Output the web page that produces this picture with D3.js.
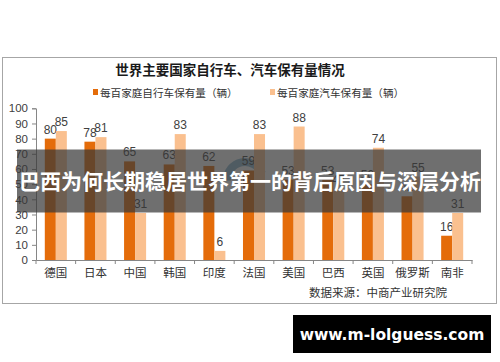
<!DOCTYPE html>
<html><head><meta charset="utf-8">
<script src="https://cdn.jsdelivr.net/npm/d3@7"></script>
<style>body{margin:0;background:#fff;}svg{display:block;}</style>
</head><body>
<svg id="c" width="500" height="362"></svg>
<script>
const categories = ["德国","日本","中国","韩国","印度","法国","美国","巴西","英国","俄罗斯","南非"];
const bikeValues = [80,78,65,63,62,59,53,53,50,42,16];
const carValues  = [85,81,31,83,6,83,88,47,74,55,31];
const seriesNames = ["每百家庭自行车保有量（辆）","每百家庭汽车保有量（辆）"];
const seriesColors = ["#E46C0A","#FAC08F"];
const yTicks = [0,10,20,30,40,50,60,70,80,90,100];
const title = "世界主要国家自行车、汽车保有量情况";
const source = "数据来源：中商产业研究院";
const overlayText = "巴西为何长期稳居世界第一的背后原因与深层分析";
const siteText = "www.m-lolguess.com";

const svg = d3.select("#c");
const font = "'Noto Sans CJK SC','Noto Sans',sans-serif";

// chart frame
svg.append("rect").attr("x",2.5).attr("y",57.5).attr("width",494).attr("height",246)
  .attr("fill","#fff").attr("stroke","#a6a6a6").attr("stroke-width",1);

svg.append("text").attr("x",230).attr("y",75).attr("text-anchor","middle")
  .attr("font-family",font).attr("font-weight","bold").attr("font-size",13.5).attr("fill","#1a1a1a").text(title);

// legend
const legendX = [93,270];
seriesNames.forEach((n,i)=>{
  svg.append("rect").attr("x",legendX[i]).attr("y",89).attr("width",5).attr("height",6).attr("fill",seriesColors[i]);
  svg.append("text").attr("x",legendX[i]+7).attr("y",97).attr("font-family",font).attr("font-size",10.6)
    .attr("fill","#333").text(n);
});

const x = d3.scaleBand().domain(categories).range([36,472]);
const y = d3.scaleLinear().domain([0,100]).range([260,108.3]);
const bw = x.bandwidth();
const x1 = d3.scaleBand().domain([0,1]).range([bw*0.222, bw*0.778]);

// y axis
const ya = svg.append("g").attr("transform","translate(36,0)")
  .call(d3.axisLeft(y).tickValues(yTicks).tickSize(4).tickPadding(4));
ya.select(".domain").attr("stroke","#868686");
ya.selectAll(".tick line").attr("stroke","#868686");
ya.selectAll("text").attr("font-family","'Liberation Sans',Arial,sans-serif").attr("font-size",11.5).attr("fill","#404040");

// x axis
const xa = svg.append("g").attr("transform","translate(0,260)")
  .call(d3.axisBottom(x).tickSize(0).tickPadding(9));
xa.select(".domain").attr("stroke","#868686");
xa.selectAll("text").attr("font-family",font).attr("font-size",11.5).attr("fill","#333");
// boundary ticks
svg.append("g").selectAll("line").data(categories.concat(["__end"])).join("line")
  .attr("x1",(d,i)=> i<categories.length ? x(d) : x(categories[categories.length-1])+bw)
  .attr("x2",(d,i)=> i<categories.length ? x(d) : x(categories[categories.length-1])+bw)
  .attr("y1",260).attr("y2",264).attr("stroke","#868686");

// faint watermark logo
svg.append("path").attr("d",d3.arc()({innerRadius:14,outerRadius:22,startAngle:-1.6,endAngle:1.2}))
  .attr("transform","translate(245,180)").attr("fill","#2f7ea8").attr("opacity",0.55);

const data = [bikeValues, carValues];
data.forEach((vals,si)=>{
  const g = svg.append("g");
  g.selectAll("rect").data(categories).join("rect")
    .attr("x",(d)=>x(d)+x1(si)).attr("width",x1.bandwidth())
    .attr("y",(d,i)=>y(vals[i])).attr("height",(d,i)=>y(0)-y(vals[i]))
    .attr("fill",seriesColors[si]);
  g.selectAll("text").data(categories).join("text")
    .attr("x",(d)=>x(d)+x1(si)+x1.bandwidth()/2).attr("y",(d,i)=>y(vals[i])-5)
    .attr("text-anchor","middle").attr("font-family","'Liberation Sans',Arial,sans-serif")
    .attr("font-size",12).attr("fill","#404040").text((d,i)=>vals[i]);
});

svg.append("text").attr("x",447).attr("y",297).attr("text-anchor","end")
  .attr("font-family",font).attr("font-size",11.5).attr("fill","#333").text(source);

// overlay band
svg.append("rect").attr("x",17).attr("y",149.5).attr("width",464).attr("height",63)
  .attr("fill","rgb(55,55,55)").attr("opacity",0.72);
svg.append("text").attr("x",250).attr("y",189).attr("text-anchor","middle")
  .attr("font-family",font).attr("font-weight","bold").attr("font-size",21).attr("fill","#fff").text(overlayText);

// site badge
svg.append("rect").attr("x",293).attr("y",315).attr("width",198).attr("height",38).attr("fill","#000");
svg.append("text").attr("x",392).attr("y",340).attr("text-anchor","middle")
  .attr("font-family","'DejaVu Sans',sans-serif").attr("font-weight","bold").attr("font-size",15.5).attr("fill","#fff").text(siteText);
</script>
</body></html>
